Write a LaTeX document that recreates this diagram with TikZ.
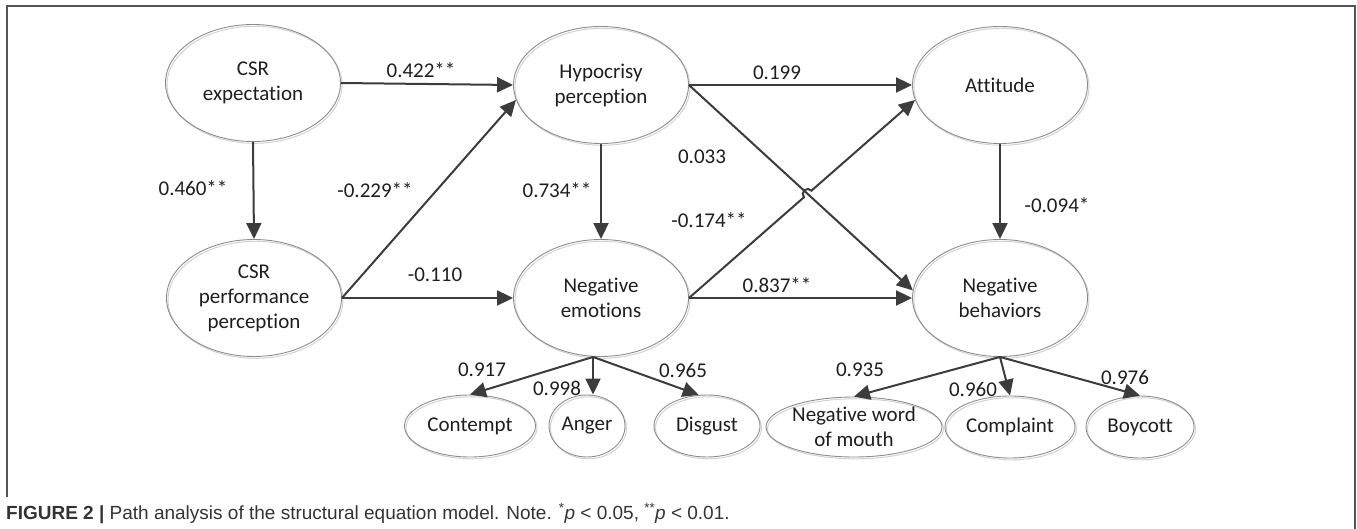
\documentclass[tikz,border=0pt]{standalone}
\usepackage{fontspec}
\setmainfont{Carlito}[Ligatures={NoCommon}]
\newfontfamily\capfont{Liberation Sans}
\usetikzlibrary{shapes.geometric,arrows.meta,intersections,calc}
\definecolor{arrc}{HTML}{3C3C3C}
\definecolor{ellc}{HTML}{8C8C8C}
\definecolor{shc}{HTML}{D2D2D2}
\definecolor{txtc}{HTML}{1E1E1E}
\definecolor{framec}{HTML}{555555}
\definecolor{capc}{HTML}{333333}
\begin{document}
\begin{tikzpicture}[x=1pt,y=1pt,
  ell/.style={ellipse, draw=ellc, line width=0.9pt, inner sep=0pt, align=center, text=txtc,
    font=\fontsize{21}{25}\selectfont,
    preaction={draw=shc, line width=1pt, transform canvas={shift={(1.5pt,-1.8pt)}}}},
  big/.style={ell, minimum width=175pt, minimum height=117pt},
  small/.style={ell, minimum height=62pt},
  lab/.style={text=txtc, font=\fontsize{21}{25}\selectfont, inner sep=0pt},
  arr/.style={draw=arrc, line width=2pt, -{Triangle[length=16pt,width=15pt]}},
  framel/.style={draw=framec, line width=1.5pt}
]
\useasboundingbox (0,0) rectangle (1357,-529);
\draw[framel] (7,-497) -- (7,-6) -- (1355,-6) -- (1355,-529);

\node[big] (csre) at (253,-83) {CSR\\expectation};
\node[big] (csrp) at (254,-298) {CSR\\performance\\perception};
\node[big] (hyp) at (601,-85) {Hypocrisy\\perception};
\node[big] (ne) at (601,-298) {Negative\\emotions};
\node[big] (att) at (1000,-85) {Attitude};
\node[big] (nb) at (1000,-298) {Negative\\behaviors};
\node[small, minimum width=131pt] (con) at (470,-426) {Contempt};
\node[small, minimum width=76pt] (ang) at (587,-426) {Anger};
\node[small, minimum width=106pt] (dis) at (707,-426) {Disgust};
\node[small, minimum width=176pt, minimum height=60pt] (nwom) at (854,-427) {Negative word\\of mouth};
\node[small, minimum width=130pt] (comp) at (1010,-427) {Complaint};
\node[small, minimum width=108pt] (boy) at (1140,-427) {Boycott};

\draw[arr] (csre.east) -- (hyp.west);
\draw[arr] (csre.south) -- (csrp.north);
\draw[arr] (csrp.east) -- (hyp.190);
\draw[arr] (csrp.east) -- (ne.west);
\draw[arr] (hyp.east) -- (att.west);
\draw[arr] (hyp.south) -- (ne.north);
\draw[arr] (hyp.east) -- (nb.175);
\path[name path=pa] (ne.east) -- (att.190);
\path[name path=pb] (hyp.east) -- (nb.175);
\path[name intersections={of=pa and pb, by=X}];
\draw[arr] let \p1=($(att.190)-(ne.east)$), \n1={atan2(\y1,\x1)} in
  (ne.east) -- ($(X)!5pt!(ne.east)$) arc[start angle=\n1+180, end angle=\n1, radius=5pt] -- (att.190);
\draw[arr] (ne.east) -- (nb.west);
\draw[arr] (att.south) -- (nb.north);
\coordinate (nef) at ([xshift=-8pt]ne.south);
\draw[arr] (nef) -- (con.north);
\draw[arr] (nef) -- (nef |- ang.north);
\draw[arr] (nef) -- (dis.105);
\draw[arr] (nb.south) -- (nwom.north);
\draw[arr] (nb.south) -- (comp.north);
\draw[arr] (nb.south) -- (boy.north);

\node[lab] (l422) at (421,-70) {0.422**};
\node[lab] (l460) at (193,-188) {0.460**};
\node[lab] (l229) at (375,-190) {-0.229**};
\node[lab] (l110) at (435,-275) {-0.110};
\node[lab] (l199) at (777,-73) {0.199};
\node[lab] (l033) at (702,-157) {0.033};
\node[lab] (l734) at (557,-190) {0.734**};
\node[lab] (l174) at (709,-220) {-0.174**};
\node[lab] (l837) at (777,-285) {0.837**};
\node[lab] (l094) at (1057,-205) {-0.094*};
\node[lab] (l917) at (482,-370) {0.917};
\node[lab] (l998) at (557,-388) {0.998};
\node[lab] (l965) at (683,-370) {0.965};
\node[lab] (l935) at (860,-370) {0.935};
\node[lab] (l960) at (973,-389) {0.960};
\node[lab] (l976) at (1125,-377) {0.976};

\node[anchor=base west, inner sep=0pt, text=capc, font=\capfont\fontsize{19}{23}\selectfont] (cap) at (6,-519)
  {\textbf{FIGURE 2 |} Path analysis of the structural equation model. Note. \textsuperscript{*}\textit{p} < 0.05, \textsuperscript{**}\textit{p} < 0.01.};
\end{tikzpicture}
\end{document}
